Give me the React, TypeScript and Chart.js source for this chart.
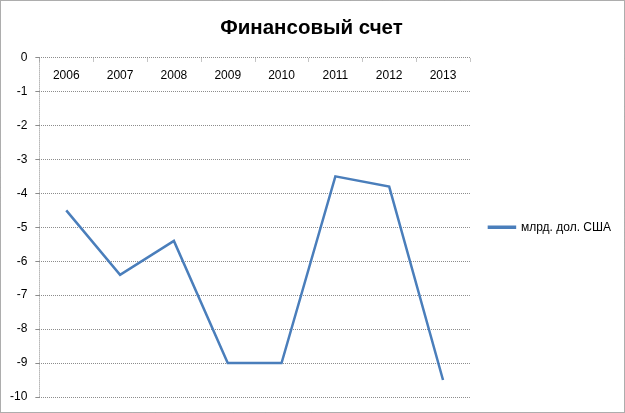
import React, { useEffect, useRef } from "react";
import { Chart, registerables } from "chart.js";

Chart.register(...registerables);

const categories = ["2006", "2007", "2008", "2009", "2010", "2011", "2012", "2013"];
const seriesValues = [-4.5, -6.4, -5.4, -9.0, -9.0, -3.5, -3.8, -9.5];
const seriesName = "млрд. дол. США";
const titleText = "Финансовый счет";

const FONT = "'Liberation Sans', Arial, sans-serif";
const GRID = "#8c8c8c";

const framePlugin = {
  id: "frame",
  beforeDraw(chart: any) {
    const { ctx, width, height } = chart;
    ctx.save();
    ctx.fillStyle = "#ffffff";
    ctx.fillRect(0, 0, width, height);
    ctx.strokeStyle = "#5a5a5a";
    ctx.lineWidth = 1;
    ctx.setLineDash([1, 1]);
    ctx.strokeRect(0.5, 0.5, width - 1, height - 1);
    ctx.restore();
  },
};

const topAxisPlugin = {
  id: "topAxis",
  afterDraw(chart: any) {
    const { ctx } = chart;
    const x = chart.scales.x;
    const y = chart.scales.y;
    const y0 = Math.round(y.getPixelForValue(0)) + 0.5;
    ctx.save();
    // left axis line (dotted)
    ctx.strokeStyle = GRID;
    ctx.lineWidth = 1;
    ctx.setLineDash([1, 1]);
    const lx = Math.round(x.left) + 0.5;
    ctx.beginPath();
    ctx.moveTo(lx, y.top);
    ctx.lineTo(lx, y.bottom);
    ctx.stroke();
    // tick marks on the top axis at category boundaries
    const n = categories.length;
    const step = (x.right - x.left) / n;
    ctx.beginPath();
    for (let i = 0; i <= n; i++) {
      const bx = Math.round(x.left + i * step) + 0.5;
      ctx.moveTo(bx, y0);
      ctx.lineTo(bx, y0 + 4);
    }
    ctx.stroke();
    // category labels below the top axis line
    ctx.setLineDash([]);
    ctx.fillStyle = "#000000";
    ctx.font = `12px ${FONT}`;
    ctx.textAlign = "center";
    ctx.textBaseline = "middle";
    categories.forEach((c, i) => {
      ctx.fillText(c, x.getPixelForValue(i), y0 + 17);
    });
    ctx.restore();
  },
};

export default function App() {
  const canvasRef = useRef<HTMLCanvasElement | null>(null);

  useEffect(() => {
    document.body.style.margin = "0";
    const canvas = canvasRef.current;
    if (!canvas) return;
    const chart = new Chart(canvas, {
      type: "line",
      data: {
        labels: categories,
        datasets: [
          {
            label: seriesName,
            data: seriesValues,
            borderColor: "#4a7ebb",
            backgroundColor: "#4a7ebb",
            borderWidth: 2.5,
            pointRadius: 0,
            tension: 0,
            fill: false,
          },
        ],
      },
      options: {
        responsive: false,
        animation: false,
        layout: { padding: { top: 0, left: 2, right: 4, bottom: 16 } },
        scales: {
          x: {
            type: "category",
            display: false,
            offset: true,
          },
          y: {
            min: -10,
            max: 0,
            ticks: {
              stepSize: 1,
              padding: 8,
              color: "#000000",
              font: { family: FONT, size: 12 },
            },
            grid: {
              color: GRID,
              tickLength: 4,
              drawTicks: true,
            },
            border: { display: false, dash: [1, 1] },
          },
        },
        plugins: {
          title: {
            display: true,
            text: titleText,
            color: "#000000",
            font: { family: FONT, size: 20.5, weight: "bold" },
            padding: { top: 16, bottom: 17 },
          },
          legend: {
            position: "right",
            fullSize: false,
            labels: {
              boxWidth: 26,
              boxHeight: 1,
              padding: 19,
              color: "#000000",
              font: { family: FONT, size: 12 },
            },
          },
          tooltip: { enabled: false },
        },
      },
      plugins: [framePlugin, topAxisPlugin],
    });
    return () => chart.destroy();
  }, []);

  return (
    <div style={{ width: 625, height: 413 }}>
      <canvas ref={canvasRef} width={625} height={413} />
    </div>
  );
}
